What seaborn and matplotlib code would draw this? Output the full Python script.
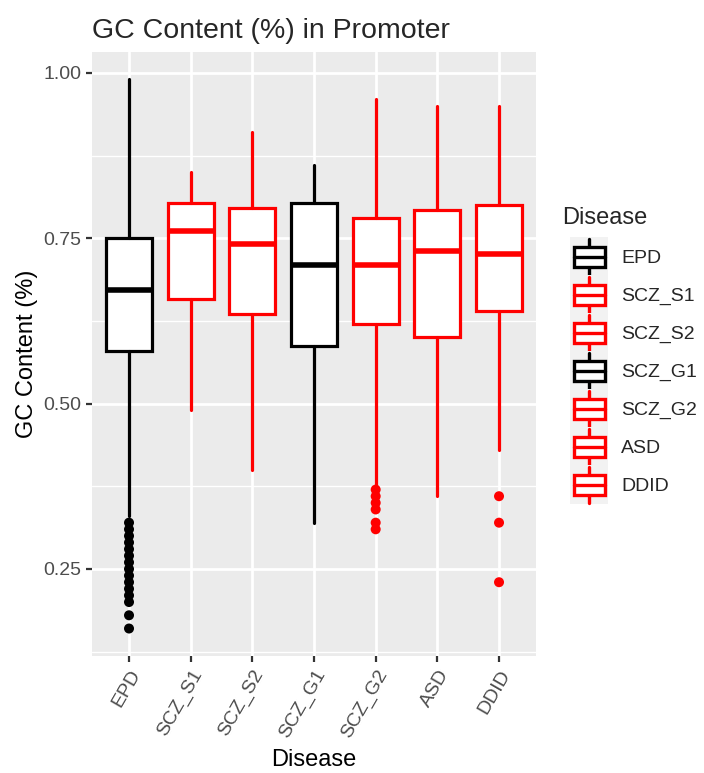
import matplotlib
matplotlib.use("Agg")
import matplotlib.pyplot as plt
import seaborn as sns
import pandas as pd
from matplotlib.legend_handler import HandlerBase
from matplotlib.patches import Rectangle, Patch
from matplotlib.lines import Line2D
from matplotlib.ticker import MultipleLocator

# values
diseases = ["EPD", "SCZ_S1", "SCZ_S2", "SCZ_G1", "SCZ_G2", "ASD", "DDID"]
box_colors = ["black", "red", "red", "black", "red", "red", "red"]
whisker_low = [0.33, 0.49, 0.40, 0.32, 0.375, 0.36, 0.43]
q1 = [0.58, 0.658, 0.635, 0.587, 0.62, 0.60, 0.64]
median = [0.672, 0.761, 0.741, 0.71, 0.71, 0.73, 0.726]
q3 = [0.75, 0.803, 0.796, 0.804, 0.78, 0.792, 0.80]
whisker_high = [0.99, 0.85, 0.91, 0.86, 0.96, 0.95, 0.95]

epd_outliers = [0.32, 0.31, 0.30, 0.29, 0.28, 0.27, 0.26, 0.25, 0.24, 0.23,
                0.22, 0.21, 0.20, 0.18, 0.16]
scz_g2_outliers = [0.37, 0.36, 0.35, 0.34, 0.32, 0.31]
ddid_outliers = [0.36, 0.32, 0.23]

sns.set_theme(style="darkgrid")
plt.rcParams["font.family"] = ["Liberation Sans", "DejaVu Sans"]

fig = plt.figure(figsize=(7.04, 7.73), dpi=100)
ax = fig.add_axes([0.1307, 0.1514, 0.6307, 0.7813])
ax.set_facecolor("#EBEBEB")

# outlier points
out_df = pd.DataFrame({
    "Disease": ["EPD"] * len(epd_outliers) + ["SCZ_G2"] * len(scz_g2_outliers)
               + ["DDID"] * len(ddid_outliers),
    "GC": epd_outliers + scz_g2_outliers + ddid_outliers,
})
palette = dict(zip(diseases, box_colors))
sns.stripplot(data=out_df, x="Disease", y="GC", hue="Disease", order=diseases,
              hue_order=diseases, palette=palette, jitter=False, size=7.2,
              linewidth=0, legend=False, ax=ax, zorder=3)

# boxes from the summary stats
stats = []
for i in range(len(diseases)):
    stats.append({"whislo": whisker_low[i], "q1": q1[i], "med": median[i],
                  "q3": q3[i], "whishi": whisker_high[i], "fliers": []})
bp = ax.bxp(stats, positions=range(len(diseases)), widths=0.75,
            patch_artist=True, showcaps=False, showfliers=False,
            manage_ticks=False, zorder=2)
for i, c in enumerate(box_colors):
    bp["boxes"][i].set(facecolor="white", edgecolor=c, linewidth=2.3)
    bp["medians"][i].set(color=c, linewidth=4.0, solid_capstyle="butt")
    for w in bp["whiskers"][2 * i:2 * i + 2]:
        w.set(color=c, linewidth=2.3)

ax.set_xlim(-0.6, len(diseases) - 0.4)
ax.set_ylim(0.1185, 1.0315)
ax.yaxis.set_minor_locator(MultipleLocator(0.125))
ax.set_yticks([0.25, 0.5, 0.75, 1.0])
ax.set_yticklabels(["0.25", "0.50", "0.75", "1.00"])
ax.set_xticks(range(len(diseases)))
ax.set_xticklabels(diseases, rotation=60, ha="right", rotation_mode="anchor")

ax.grid(which="major", color="white", linewidth=2.0)
ax.grid(which="minor", axis="y", color="white", linewidth=1.0)
ax.set_axisbelow(True)
for s in ax.spines.values():
    s.set_visible(False)
ax.tick_params(axis="both", which="major", length=4.3, width=1.6,
               color="#333333", labelcolor="#4D4D4D", labelsize=14,
               bottom=True, left=True, pad=3.5)
ax.tick_params(axis="both", which="minor", length=0)

ax.set_xlabel("Disease", fontsize=17, color="black", labelpad=6)
ax.set_ylabel("GC Content (%)", fontsize=17, color="black", labelpad=4)
ax.set_title("GC Content (%) in Promoter", fontsize=20.5, loc="left",
             x=0.0, pad=10)


class BoxKey(HandlerBase):
    def create_artists(self, legend, orig_handle, xdescent, ydescent,
                       width, height, fontsize, trans):
        c = orig_handle.get_edgecolor()
        x0, y0 = -xdescent, -ydescent
        bg = Rectangle((x0, y0 - 0.5), width, height + 1, facecolor="#F2F2F2",
                       edgecolor="none", transform=trans)
        bx = x0 + width * 0.09
        bw = width * 0.82
        by = y0 + height * 0.235
        bh = height * 0.53
        box = Rectangle((bx, by), bw, bh, facecolor="white", edgecolor=c,
                        linewidth=2.4, transform=trans)
        mid = Line2D([bx, bx + bw], [y0 + height / 2] * 2, color=c,
                     linewidth=2.4, transform=trans)
        wl = Line2D([x0 + width / 2] * 2, [y0 + height * 0.03, by], color=c,
                    linewidth=2.4, transform=trans)
        wh = Line2D([x0 + width / 2] * 2, [by + bh, y0 + height * 0.97],
                    color=c, linewidth=2.4, transform=trans)
        return [bg, wl, wh, box, mid]


handles = [Patch(edgecolor=c, facecolor="white") for c in box_colors]
leg = ax.legend(handles, diseases, handler_map={Patch: BoxKey()},
                title="Disease", loc="center left", bbox_to_anchor=(1.077, 0.498),
                frameon=False, fontsize=14, title_fontsize=17,
                handlelength=1.96, handleheight=2.63, labelspacing=0,
                handletextpad=0.67, borderaxespad=0, borderpad=0)
leg._legend_box.align = "left"
leg._legend_box.sep = 6.5
leg.get_title().set_position((-8, 0))

fig.savefig("out.png", dpi=100)
